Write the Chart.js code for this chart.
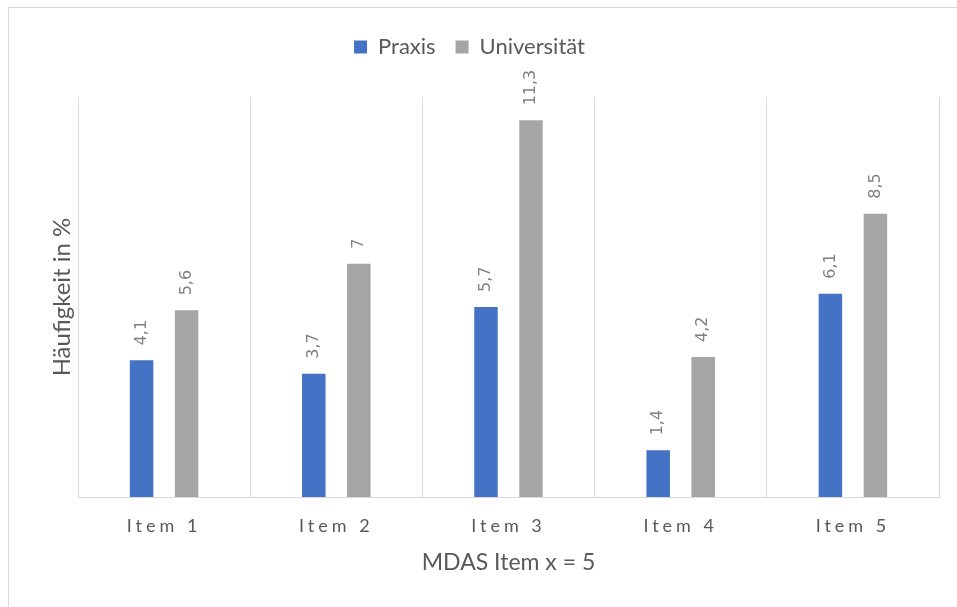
<!DOCTYPE html>
<html lang="de">
<head>
<meta charset="utf-8">
<title>MDAS Item x = 5</title>
<script src="https://cdn.jsdelivr.net/npm/chart.js@4/dist/chart.umd.min.js"></script>
<style>
  html, body { margin: 0; padding: 0; background: #fff; overflow: hidden; }
  #frame { position: absolute; left: 8px; top: 7px; width: 1000px; height: 700px; border: 1px solid #d9d9d9; }
  #chart { position: absolute; left: 0; top: 0; }
</style>
</head>
<body>
<div id="frame"></div>
<canvas id="chart" width="957" height="607"></canvas>
<script>
// Häufigkeit in % je MDAS-Item
var items = ['Item 1', 'Item 2', 'Item 3', 'Item 4', 'Item 5'];
var praxis = [4.1, 3.7, 5.7, 1.4, 6.1];
var universitaet = [5.6, 7, 11.3, 4.2, 8.5];

var textGray = '#595959';
var gridGray = '#d9d9d9';

// extra room between legend and plot
var legendGap = {
  id: 'legendGap',
  beforeInit: function(chart) {
    var fit = chart.legend.fit;
    chart.legend.fit = function() {
      fit.call(this);
      this.height += 29;
    };
  }
};

// rotated value labels above the bars, then letter spacing for the item labels
var barLabels = {
  id: 'barLabels',
  afterDatasetsDraw: function(chart) {
    var ctx = chart.ctx;
    ctx.letterSpacing = '0px';
    ctx.save();
    ctx.font = '16px "DejaVu Sans"';
    ctx.fillStyle = '#808080';
    ctx.textAlign = 'left';
    ctx.textBaseline = 'middle';
    chart.data.datasets.forEach(function(ds, i) {
      chart.getDatasetMeta(i).data.forEach(function(bar, j) {
        var txt = String(ds.data[j]).replace('.', ',');
        ctx.save();
        ctx.translate(bar.x, bar.y - 15);
        ctx.rotate(-Math.PI / 2);
        ctx.fillText(txt, 0, 0);
        ctx.restore();
      });
    });
    ctx.restore();
    ctx.letterSpacing = '4px';
  },
  afterDraw: function(chart) {
    chart.ctx.letterSpacing = '0px';
  }
};

new Chart(document.getElementById('chart'), {
  type: 'bar',
  data: {
    labels: items,
    datasets: [{
      label: 'Praxis',
      data: praxis,
      backgroundColor: '#4472c4',
      categoryPercentage: 0.5226,
      barPercentage: 0.522
    }, {
      label: 'Universität',
      data: universitaet,
      backgroundColor: '#a5a5a5',
      categoryPercentage: 0.5226,
      barPercentage: 0.522
    }]
  },
  options: {
    responsive: false,
    animation: false,
    layout: { padding: { top: 16, right: 18, left: 0, bottom: 0 } },
    plugins: {
      tooltip: { enabled: false },
      legend: {
        position: 'top',
        labels: {
          boxWidth: 13,
          boxHeight: 13,
          padding: 20,
          color: textGray,
          font: { family: 'Lato', size: 22 }
        }
      }
    },
    scales: {
      x: {
        grid: { display: true, offset: true, color: gridGray, drawTicks: false },
        border: { display: true, color: gridGray },
        ticks: { z: 1, padding: 18, color: textGray, font: { family: 'Lato', size: 18 } },
        title: {
          display: true,
          text: 'MDAS Item x = 5',
          color: textGray,
          font: { family: 'Lato', size: 23 },
          padding: { top: 0, bottom: 31 }
        },
        afterFit: function(scale) { scale.height = 110; }
      },
      y: {
        min: 0,
        max: 12,
        grid: { display: false },
        border: { display: false },
        ticks: { display: false },
        title: {
          display: true,
          text: 'Häufigkeit in %',
          color: textGray,
          font: { family: 'Lato', size: 24 },
          padding: { top: 48, bottom: 0 }
        },
        afterFit: function(scale) { scale.width = 78; }
      }
    }
  },
  plugins: [legendGap, barLabels]
});
</script>
</body>
</html>
